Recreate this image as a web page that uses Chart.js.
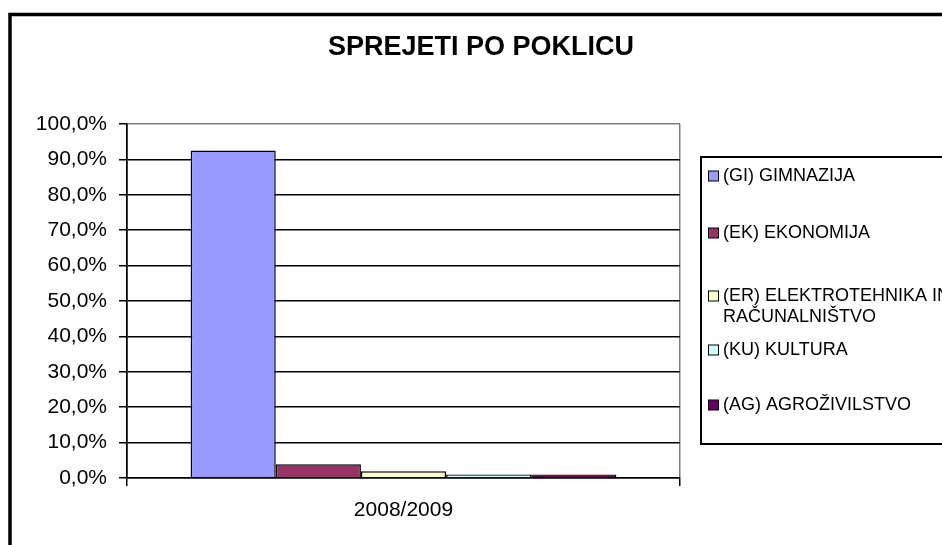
<!DOCTYPE html>
<html>
<head>
<meta charset="utf-8">
<script src="https://cdn.jsdelivr.net/npm/chart.js@4.4.0/dist/chart.umd.min.js"></script>
<style>
  html, body { margin: 0; padding: 0; background: #fff; }
</style>
</head>
<body>
<canvas id="myChart" width="942" height="545"></canvas>
<script>
// podatki
const categories = ['2008/2009'];
const seriesLabels = [
  '(GI) GIMNAZIJA',
  '(EK) EKONOMIJA',
  '(ER) ELEKTROTEHNIKA IN\nRAČUNALNIŠTVO',
  '(KU) KULTURA',
  '(AG) AGROŽIVILSTVO'
];
const valuesGI = [92.5];
const valuesEK = [3.9];
const valuesER = [1.9];
const valuesKU = [1.0];
const valuesAG = [1.0];
const seriesColors = ['#9999FF', '#993366', '#FFFFCC', '#CCFFFF', '#660066'];
const chartTitle = 'SPREJETI PO POKLICU';

const FONT = "'Liberation Sans', Arial, sans-serif";

const datasets = [valuesGI, valuesEK, valuesER, valuesKU, valuesAG].map((vals, i) => ({
  label: seriesLabels[i],
  data: vals,
  backgroundColor: seriesColors[i],
  borderColor: '#000',
  borderWidth: 1.5
}));

// okvir, naslov in legenda
const framePlugin = {
  id: 'frame',
  afterDraw(chart) {
    const c = chart.ctx;
    c.save();
    c.strokeStyle = '#000';
    c.lineWidth = 3.5;
    c.strokeRect(10, 14.5, 1000, 1000);

    // naslov
    c.fillStyle = '#000';
    c.font = 'bold 27px ' + FONT;
    c.textAlign = 'center';
    c.textBaseline = 'middle';
    c.fillText(chartTitle, 481, 48);

    // legenda
    c.textAlign = 'left';
    c.lineWidth = 2;
    c.strokeRect(701, 157, 400, 287);
    const rows = [176, 233, 296, 350, 405];
    c.font = '18px ' + FONT;
    chart.data.datasets.forEach((ds, i) => {
      const y = rows[i];
      c.fillStyle = ds.backgroundColor;
      c.fillRect(708.5, y - 5, 10, 10);
      c.lineWidth = 1;
      c.strokeStyle = '#000';
      c.strokeRect(708.5, y - 5, 10, 10);
      c.fillStyle = '#000';
      ds.label.split('\n').forEach((line, j) => {
        c.fillText(line, 723, y + j * 21);
      });
    });
    c.restore();
  }
};

const ctx = document.getElementById('myChart');
new Chart(ctx, {
  type: 'bar',
  data: {
    labels: categories,
    datasets: datasets
  },
  options: {
    responsive: false,
    animation: false,
    devicePixelRatio: 1,
    categoryPercentage: 0.77,
    barPercentage: 1.0,
    layout: { padding: { left: 0, right: 262, top: 124, bottom: 0 } },
    plugins: {
      legend: { display: false },
      tooltip: { enabled: false },
      title: { display: false }
    },
    scales: {
      x: {
        grid: {
          offset: true,
          drawOnChartArea: true,
          color: (c) => c.index === 0 ? '#000' : '#808080',
          tickColor: '#000',
          tickLength: 8,
          lineWidth: 1.5
        },
        border: { color: '#000', width: 1.5 },
        ticks: {
          color: '#000',
          font: { family: FONT, size: 21 },
          padding: 12
        },
        afterFit(scale) { scale.height = 67; }
      },
      y: {
        min: 0,
        max: 100,
        ticks: {
          stepSize: 10,
          color: '#000',
          font: { family: FONT, size: 21 },
          padding: 12,
          callback: (v) => v.toFixed(1).replace('.', ',') + '%'
        },
        grid: {
          color: (c) => (c.tick && c.tick.value === 100) ? '#808080' : '#000',
          tickColor: '#000',
          tickLength: 8,
          lineWidth: 1.5
        },
        border: { color: '#000', width: 1.5 },
        afterFit(scale) { scale.width = 127; }
      }
    }
  },
  plugins: [framePlugin]
});
</script>
</body>
</html>
